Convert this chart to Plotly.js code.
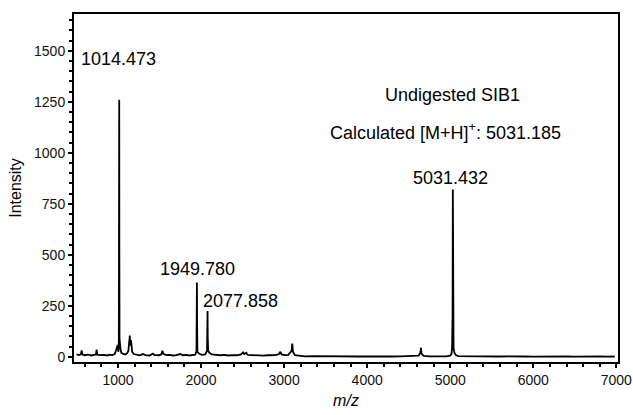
<!DOCTYPE html>
<html>
<head>
<meta charset="utf-8">
<script src="https://cdn.plot.ly/plotly-3.0.1.min.js"></script>
<style>html,body{margin:0;padding:0;background:#fff;}#chart{width:633px;height:415px;}</style>
</head>
<body>
<div id="chart"></div>
<script>
// m/z values of the spectrum trace
var mz = [500,530,555,562,570,600,640,680,710,735,742,750,790,830,870,900,930,960,975,985,995,1000,1005,1010,1012,1014.5,1016,1018,1022,1030,1040,1060,1090,1110,1125,1135,1142,1148,1155,1162,1170,1190,1220,1260,1300,1330,1380,1420,1440,1490,1520,1535,1545,1580,1620,1660,1700,1750,1780,1820,1860,1900,1930,1945,1948,1950,1952,1956,1980,2010,2050,2072,2076,2078,2080,2085,2100,2130,2180,2230,2280,2330,2380,2430,2480,2505,2520,2545,2560,2600,2650,2700,2750,2800,2850,2900,2940,2955,2970,3010,3050,3090,3098,3106,3130,3200,3250,3350,3450,3500,3600,3700,3800,3900,4000,4100,4200,4300,4400,4500,4560,4620,4640,4648,4655,4680,4750,4850,4950,5000,5015,5022,5028,5031.4,5034,5040,5050,5070,5100,5200,5300,5400,5500,5600,5700,5800,5900,6000,6100,6200,6300,6400,6500,6600,6700,6800,6900,6980];
// intensity values of the spectrum trace
var intensity = [12,9,14,32,12,8,11,7,10,12,36,11,9,10,7,11,9,14,30,45,58,40,25,80,450,1260,500,90,45,38,20,15,12,18,30,60,105,55,82,60,25,14,10,8,14,9,7,16,9,8,12,30,15,9,10,7,9,14,8,10,7,9,11,30,200,365,150,25,15,10,12,30,140,225,100,30,20,12,9,8,10,7,9,8,12,22,14,20,10,9,7,8,6,8,7,9,14,25,12,9,10,30,65,25,8,6,3,4,3,5,3,4,3,2,3,2,3,2,3,3,5,6,20,45,15,5,3,2,3,6,15,40,200,820,250,45,20,8,4,3,2,2,3,2,3,1,2,1,2,3,1,2,1,2,1,2,1,2];

// peak labels
var peakLabels = ["1014.473", "1949.780", "2077.858", "5031.432"];
var labelX = [1000, 1952, 2000, 5000];
var labelY = [1460, 431, 274, 877];
var labelAnchor = ["center", "center", "left", "center"];

var infoLines = ["Undigested SIB1", "Calculated [M+H]<sup>+</sup>: 5031.185"];
var infoX = [5024, 4940];
var infoY = [1284, 1103];

var font = "Arial, 'Liberation Sans', sans-serif";
var annotations = [];
for (var i = 0; i < peakLabels.length; i++) {
  annotations.push({x: labelX[i], y: labelY[i], xref: "x", yref: "y", text: peakLabels[i],
    showarrow: false, xanchor: labelAnchor[i], yanchor: "middle", font: {size: 18, color: "#000", family: font}});
}
for (var j = 0; j < infoLines.length; j++) {
  annotations.push({x: infoX[j], y: infoY[j], xref: "x", yref: "y", text: infoLines[j],
    showarrow: false, xanchor: "center", yanchor: "middle", font: {size: 18, color: "#000", family: font}});
}

var trace = {x: mz, y: intensity, type: "scatter", mode: "lines",
  line: {color: "#000", width: 1.8}, hoverinfo: "skip"};

var layout = {
  width: 633, height: 415,
  margin: {l: 74, r: 15, t: 14, b: 53},
  paper_bgcolor: "#fff", plot_bgcolor: "#fff",
  showlegend: false,
  font: {family: font, color: "#000"},
  xaxis: {
    range: [470, 7020], tickmode: "linear", tick0: 0, dtick: 1000,
    ticks: "outside", ticklen: 4, tickwidth: 2, tickcolor: "#000",
    showline: true, linecolor: "#000", linewidth: 2, mirror: true,
    showgrid: false, zeroline: false,
    tickfont: {size: 14, color: "#111", family: font},
    minor: {tickmode: "linear", tick0: 0, dtick: 200, ticks: "outside", ticklen: 3, tickwidth: 2, tickcolor: "#000", showgrid: false},
    title: {text: "<i>m/z</i>", font: {size: 16, color: "#000", family: font}, standoff: 8}
  },
  yaxis: {
    range: [-25, 1680], tickmode: "linear", tick0: 0, dtick: 250,
    ticks: "outside", ticklen: 4, tickwidth: 2, tickcolor: "#000",
    showline: true, linecolor: "#000", linewidth: 2, mirror: true,
    showgrid: false, zeroline: false,
    tickfont: {size: 14, color: "#111", family: font},
    minor: {tickmode: "linear", tick0: 0, dtick: 50, ticks: "outside", ticklen: 3, tickwidth: 2, tickcolor: "#000", showgrid: false},
    title: {text: "Intensity", font: {size: 16, color: "#000", family: font}, standoff: 8}
  },
  annotations: annotations
};

Plotly.newPlot("chart", [trace], layout, {displayModeBar: false, staticPlot: true});
</script>
</body>
</html>
